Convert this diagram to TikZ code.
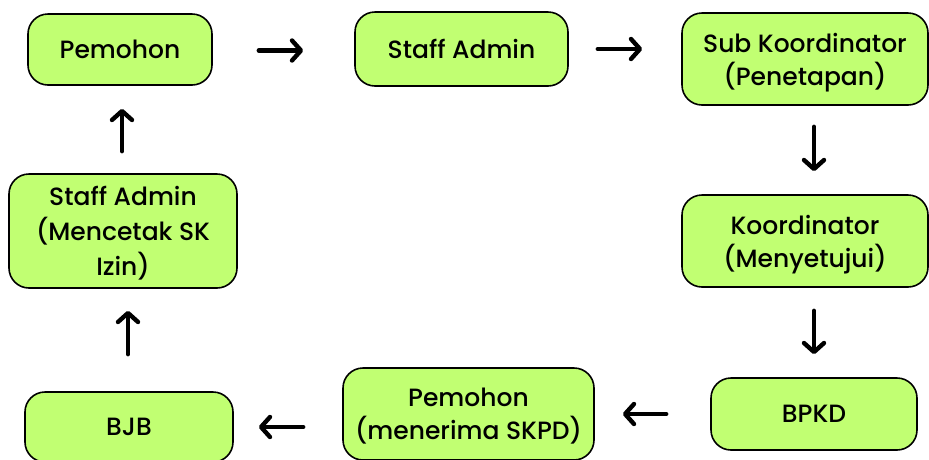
\documentclass[tikz,border=0pt]{standalone}
\usepackage{fontspec}
\setmainfont{Poppins}[UprightFont={Poppins Medium}]
\usetikzlibrary{arrows.meta}
\definecolor{boxgreen}{HTML}{C1FF72}
\tikzset{
  box/.style={draw=black, line width=1.6pt, fill=boxgreen, rounded corners=20pt,
    align=center, inner sep=0pt, font=\fontsize{25}{33}\selectfont},
  twoline/.style={text depth=0pt},
  flow/.style={line width=4.4pt, line cap=round,
    -{Straight Barb[length=9pt,width=20pt,line cap=round,line join=round]}}
}
\begin{document}
\begin{tikzpicture}[x=1pt,y=-1pt]
\useasboundingbox (0,0) rectangle (929,459);
\clip (0,0) rectangle (929,459);
\fill[white] (0,0) rectangle (929,459);
\node[box, minimum width=184pt, minimum height=71pt] (p1) at (120,49.5) {Pemohon};
\node[box, minimum width=213pt, minimum height=74pt] (s1) at (461.5,49) {Staff Admin};
\node[box, twoline, minimum width=246pt, minimum height=92pt] (sk) at (805,59) {Sub Koordinator\\(Penetapan)};
\node[box, twoline, minimum width=246pt, minimum height=92pt] (ko) at (805,241) {Koordinator\\(Menyetujui)};
\node[box, minimum width=206pt, minimum height=72pt] (bp) at (814,414) {BPKD};
\node[box, twoline, minimum width=251pt, minimum height=92pt] (p2) at (468.5,414) {Pemohon\\(menerima SKPD)};
\node[box, minimum width=208pt, minimum height=70pt] (bj) at (129,427) {BJB};
\node[box, twoline, minimum width=228pt, minimum height=114pt, font=\fontsize{25}{35}\selectfont] (sa) at (123,231) {Staff Admin\\(Mencetak SK\\Izin)};

\draw[flow, shorten <=46pt, shorten >=51pt] ([yshift=-1pt]p1.east) -- ([yshift=-1pt]p1.east -| s1.west);
\draw[flow, shorten <=29pt, shorten >=39pt] (s1.east) -- (s1.east -| sk.west);
\draw[flow, shorten <=21pt, shorten >=23pt] ([xshift=9pt]sk.south) -- ([xshift=9pt]ko.north);
\draw[flow, shorten <=23pt, shorten >=23pt] ([xshift=9pt]ko.south) -- ([xshift=9pt]ko.south |- bp.north);
\draw[flow, shorten <=44pt, shorten >=28pt] (bp.west) -- (bp.west -| p2.east);
\draw[flow, shorten <=39pt, shorten >=25pt] (p2.west |- bj.east) -- (bj.east);
\draw[flow, shorten <=37pt, shorten >=22pt] ([xshift=-1pt]bj.north) -- ([xshift=-1pt]bj.north |- sa.south);
\draw[flow, shorten <=22pt, shorten >=23pt] ([xshift=-1pt]sa.north) -- ([xshift=-1pt]sa.north |- p1.south);
\end{tikzpicture}
\end{document}
